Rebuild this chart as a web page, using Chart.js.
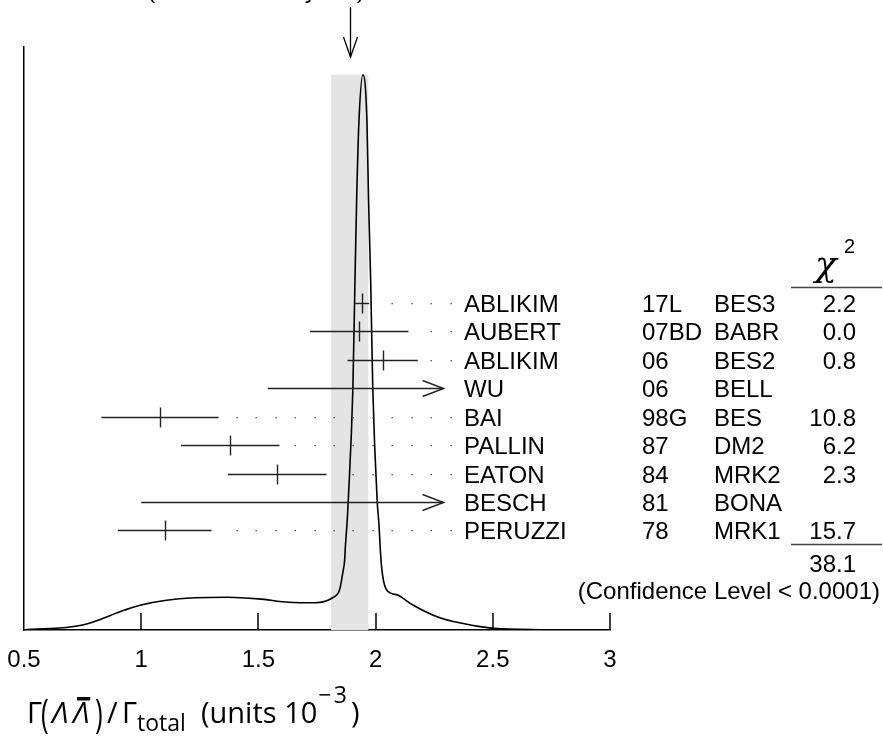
<!DOCTYPE html>
<html>
<head>
<meta charset="utf-8">
<script src="https://cdn.jsdelivr.net/npm/chart.js@4.4.1/dist/chart.umd.min.js"></script>
<style>
html,body{margin:0;padding:0;background:#fff;}
#c{display:block;}
</style>
</head>
<body>
<canvas id="c" width="883" height="740"></canvas>
<script>
var curveX=[0.50,0.75,0.93,1.00,1.10,1.23,1.37,1.50,1.63,1.74,1.82,1.846,1.860,1.868,1.871,1.879,1.883,1.903,1.912,1.919,1.929,1.946,1.963,1.970,1.979,1.988,2.007,2.013,2.024,2.038,2.067,2.094,2.159,2.274,2.432,2.504,2.70,2.95];
var curveY=[0,0.9,3.6,4.5,5.3,5.8,5.9,5.6,5.0,4.9,5.9,7.2,10.3,12.6,15.0,19.8,23.0,43.5,62.9,77.3,91.7,100,91.7,77.3,62.9,43.5,23.0,19.8,12.1,8.1,6.6,6.3,4.5,2.2,0.7,0.3,0.05,0];

// measurements
var names=['ABLIKIM','AUBERT','ABLIKIM','WU','BAI','PALLIN','EATON','BESCH','PERUZZI'];
var years=['17L','07BD','06','06','98G','87','84','81','78'];
var expts=['BES3','BABR','BES2','BELL','BES','DM2','MRK2','BONA','MRK1'];
var values=[1.943,1.93,2.03,2.41,1.08,1.38,1.58,2.6,1.10];
var errors=[0.03,0.21,0.15,0.87,0.25,0.21,0.21,1.6,0.20];
var chi2=['2.2','0.0','0.8','','10.8','6.2','2.3','','15.7'];
var chi2Total='38.1';
var confLevel='(Confidence Level < 0.0001)';

var avgValue=1.89,avgError=0.08,scaleFactor='2.5';
var xTicks=[0.5,1,1.5,2,2.5,3];

var F='"Liberation Sans", Arial, Helvetica, sans-serif';
var clipAt=2.29;          // marks are cut off here (arrow)
var dotEnd=2.32,dotStep=0.0829,dotGap=0.055;

function ln(ctx,x1,y1,x2,y2){ctx.beginPath();ctx.moveTo(x1,y1);ctx.lineTo(x2,y2);ctx.stroke();}

var ideogram={
    id:'ideogram',
    afterDatasetsDraw:function(chart){
        var ctx=chart.ctx,x=chart.scales.x,row=chart.scales.row,a=chart.chartArea;
        ctx.save();

        // tick marks pointing into the plot
        ctx.strokeStyle='#000';ctx.lineWidth=1.5;
        xTicks.forEach(function(v){
            if(v<=x.min)return;
            var px=Math.round(x.getPixelForValue(v));
            ln(ctx,px,a.bottom,px,a.bottom-17);
        });

        // error bars
        ctx.strokeStyle='#222';ctx.lineWidth=1.4;
        for(var i=0;i<values.length;i++){
            var py=Math.round(row.getPixelForValue(i))+0.5;
            var lo=values[i]-errors[i],hi=values[i]+errors[i];
            var pl=x.getPixelForValue(lo);
            if(hi>clipAt){
                var pc=x.getPixelForValue(clipAt);
                ln(ctx,pl,py,pc,py);
                ctx.beginPath();ctx.moveTo(pc-21,py-8);ctx.lineTo(pc,py);ctx.lineTo(pc-21,py+8);ctx.stroke();
                continue;
            }
            ln(ctx,pl,py,x.getPixelForValue(hi),py);
            var pm=Math.round(x.getPixelForValue(values[i]))+0.5;
            ln(ctx,pm,py-10,pm,py+10);
            // leader dots
            ctx.fillStyle='#444';
            for(var d=dotEnd;d>hi+dotGap&&d>x.min;d-=dotStep){
                ctx.fillRect(Math.round(x.getPixelForValue(d))-0.5,py-0.5,1.3,1.3);
            }
        }

        // text columns
        ctx.fillStyle='#000';ctx.font='24px '+F;ctx.textBaseline='alphabetic';
        for(var i=0;i<names.length;i++){
            var ty=row.getPixelForValue(i)+9;
            ctx.textAlign='left';
            ctx.fillText(names[i],464,ty);
            ctx.fillText(years[i],642,ty);
            ctx.fillText(expts[i],714,ty);
            ctx.textAlign='right';
            if(chi2[i])ctx.fillText(chi2[i],856,ty);
        }
        var r0=row.getPixelForValue(0),rN=row.getPixelForValue(names.length-1);
        ctx.textAlign='right';
        ctx.fillText(chi2Total,856,rN+42);
        ctx.fillText(confLevel,880,rN+69);

        // chi-square header and rules
        ctx.strokeStyle='#444';ctx.lineWidth=1.3;
        ln(ctx,791,Math.round(r0-16)+0.5,882,Math.round(r0-16)+0.5);
        ln(ctx,791,Math.round(rN+14)+0.5,882,Math.round(rN+14)+0.5);
        ctx.textAlign='left';
        ctx.font='italic 36px "DejaVu Serif", serif';
        ctx.fillText('\u03C7',815,r0-27);
        ctx.font='20px '+F;
        ctx.fillText('2',844,r0-50);

        // weighted average arrow and heading
        var pa=Math.round(x.getPixelForValue(avgValue))+0.5;
        ctx.strokeStyle='#000';ctx.lineWidth=1.3;
        ln(ctx,pa,7,pa,a.top+10);
        ctx.beginPath();ctx.moveTo(pa-7,a.top-10);ctx.lineTo(pa,a.top+10);ctx.lineTo(pa+7,a.top-10);ctx.stroke();
        ctx.font='24px '+F;ctx.textAlign='left';
        ctx.fillText(avgValue.toFixed(2)+'\u00B1'+avgError.toFixed(2)+' (Error scaled by '+scaleFactor+')',34,-2);

        // axis title
        var by=723,reg='29px "Open Sans", sans-serif',sm='23px "Open Sans", sans-serif';
        function put(t,font,px,dy){ctx.font=font;ctx.fillText(t,px,by+(dy||0));return ctx.measureText(t).width;}
        function tall(t,px){ctx.save();ctx.translate(px,by+5);ctx.scale(1,1.55);ctx.font='26px "Open Sans", sans-serif';ctx.fillText(t,0,0);ctx.restore();}
        put('\u0393',reg,27);
        tall('(',41);
        put('\u039B','italic '+reg,52);
        var wL=put('\u039B','italic '+reg,73);
        ctx.fillRect(77,697,wL-3,3.5);
        tall(')',95);
        put('/',reg,107);
        put('\u0393',reg,122);
        put('total',sm,137,8);
        var wu=put('(units 10',reg,201);
        var ws=put('\u2212\u200A3',sm,201+wu+1,-20);
        put(')',reg,201+wu+ws+5);

        ctx.restore();
    }
};

var ctx=document.getElementById('c').getContext('2d');
new Chart(ctx,{
    type:'line',
    data:{datasets:[
        {data:curveX.map(function(v,i){return {x:v,y:curveY[i]};}),borderColor:'#000',borderWidth:1.6,pointRadius:0,cubicInterpolationMode:'monotone',fill:false,order:0},
        {data:[{x:avgValue-avgError,y:Math.max.apply(null,curveY)},{x:avgValue+avgError,y:Math.max.apply(null,curveY)}],borderWidth:0,borderColor:'rgba(0,0,0,0)',backgroundColor:'#e4e4e4',pointRadius:0,fill:'origin',order:2}
    ]},
    options:{
        responsive:false,animation:false,devicePixelRatio:1,
        layout:{padding:{left:24,right:273,top:47,bottom:0}},
        plugins:{legend:{display:false},tooltip:{enabled:false}},
        scales:{
            x:{type:'linear',min:0.5,max:3,position:'bottom',
                afterBuildTicks:function(s){s.ticks=xTicks.map(function(v){return {value:v};});},
                ticks:{color:'#000',font:{family:F,size:24},padding:16,maxRotation:0,callback:function(v){return String(v);}},
                grid:{display:false,drawTicks:false},border:{color:'#000',width:1.5},
                afterFit:function(s){s.height=110;s.paddingLeft=0;s.paddingRight=0;}},
            y:{type:'linear',min:0,max:105,position:'left',
                ticks:{display:false},grid:{display:false,drawTicks:false},border:{color:'#000',width:1.5},
                afterFit:function(s){s.width=0;}},
            row:{type:'linear',axis:'y',position:'right',reverse:true,min:-9,max:11.5,display:false}
        }
    },
    plugins:[ideogram]
});
</script>
</body>
</html>
